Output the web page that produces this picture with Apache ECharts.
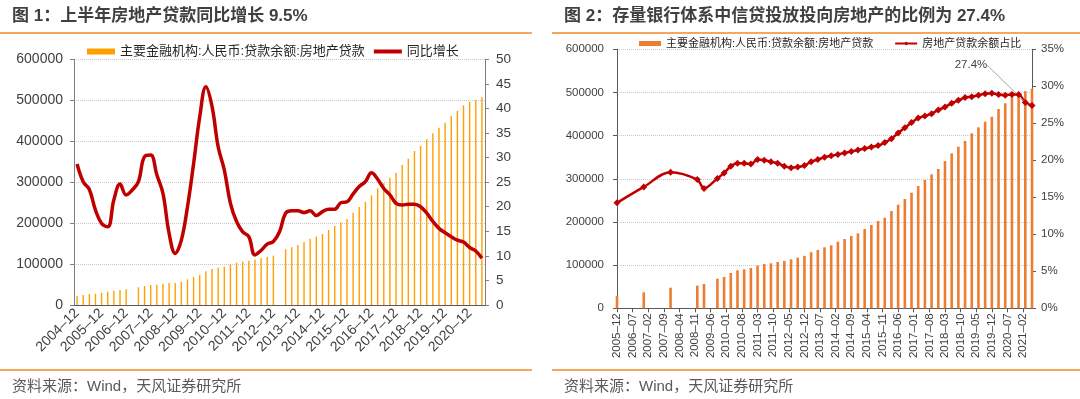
<!DOCTYPE html>
<html>
<head>
<meta charset="utf-8">
<style>
html,body{margin:0;padding:0;background:#fff;}
#main{width:1080px;height:399px;}
</style>
<script src="https://cdn.jsdelivr.net/npm/echarts@6/dist/echarts.min.js"></script>
</head>
<body>
<div id="main"></div>
<script>
var FONT = "'Liberation Sans','Noto Sans CJK SC',sans-serif";
var LOAN_NAME = '主要金融机构:人民币:贷款余额:房地产贷款';

function monthList(y, m, count, step) {
	var out = [];
	for (var i = 0; i < count; i++) {
		out.push(y + '-' + (m < 10 ? '0' + m : m));
		m += step;
		if (m > 12) { m -= 12; y++; }
	}
	return out;
}

// 图1：季度，2004-12 ~ 2021-06
var quarters = monthList(2004, 12, 67, 3);
var loanBalance1 = [
	22000, 24400, 26900, 27500, 30000, 32600, 35000, 36600, 38300, null,
	43200, 46400, 48800, 49600, 52100, 53700, 54000, 57000, 62700, 68400,
	73300, 82300, 87900, 91200, 93500, 100000, 103300, 105800, 108200, 110600,
	114000, 117200, 120400, null, 136000, 140900, 146500, 153800, 161900, 166800,
	173400, 183100, 192900, 201900, 210000, 225400, 239300, 252300, 267900, 284900,
	297100, 310900, 323100, 341900, 357300, 376100, 388300, 404600, 419300, 433000,
	445200, 461500, 474500, 487600, 496400, 500600, 507200
];
var yoyGrowth = [
	28.7, 25.1, 23.5, 19.3, 16.6, 15.9, 21.4, 24.6, 22.4, 23.4,
	25.1, 30.2, 30.5, 26.5, 22.7, 14.6, 10.5, 13.2, 20.0, 28.8,
	38.3, 44.4, 40.4, 32.2, 27.5, 20.7, 17.0, 14.9, 13.9, 10.2,
	11.1, 12.4, 12.9, 14.9, 18.7, 19.2, 19.2, 18.8, 19.2, 18.2,
	19.0, 19.5, 19.5, 20.8, 21.0, 22.6, 24.1, 25.1, 26.9, 25.6,
	23.7, 22.4, 20.7, 20.35, 20.5, 20.5, 20.0, 18.7, 17.0, 15.6,
	14.7, 13.9, 13.2, 12.8, 11.7, 11.0, 9.5
];

// 图2：月度轴 2005-12 ~ 2021-06，数据点如下
var months = monthList(2005, 12, 187, 1);
var shareDates = ['2005-12', '2006-12', '2007-12', '2008-12', '2009-03', '2009-09'].concat(monthList(2009, 12, 47, 3));
var loanBalance2 = [
	28500, 37000, 47700, 52400, 56300, 68600,
	72500, 81800, 88000, 90300, 93300, 98700, 102600, 104200, 107300, 109600,
	113500, 117200, 121500, 130000, 135300, 141300, 145900, 154300, 160500, 167500,
	173700, 183700, 193000, 202200, 209900, 225400, 240000, 253200, 267800, 283300,
	297200, 310400, 322700, 341200, 359000, 374300, 387500, 405400, 419300, 432300,
	443800, 461700, 474900, 488800, 496000, 503000, 509000
];
var loanShare = [
	14.25, 16.4, 18.4, 17.4, 16.2, 17.55,
	18.3, 19.2, 19.6, 19.6, 19.5, 20.1, 20.0, 19.8, 19.6, 19.2,
	19.0, 19.1, 19.3, 19.8, 20.1, 20.4, 20.6, 20.8, 21.0, 21.2,
	21.4, 21.6, 21.8, 22.0, 22.4, 22.9, 23.7, 24.4, 25.1, 25.7,
	26.0, 26.3, 26.8, 27.2, 27.7, 28.1, 28.5, 28.6, 28.8, 29.0,
	29.05, 28.9, 28.8, 28.9, 28.9, 27.8, 27.4
];

var barData2 = months.map(function () { return null; });
var shareData = months.map(function () { return null; });
shareDates.forEach(function (d, i) {
	var k = months.indexOf(d);
	barData2[k] = loanBalance2[i];
	shareData[k] = loanShare[i];
});
// 最新一期标注
var lastK = months.indexOf(shareDates[shareDates.length - 1]);
shareData[lastK] = {
	value: loanShare[loanShare.length - 1],
	label: { show: true, position: 'top', distance: 0, formatter: '{c}%', fontSize: 11.5, color: '#404040', fontFamily: FONT }
};

function dash(v) { return v.replace('-', '–'); }
function plain(v) { return String(v); }

var myChart = echarts.init(document.getElementById('main'));
var option = {
	animation: false,
	textStyle: { fontFamily: FONT },
	title: [
		{
			left: 12, top: 8, padding: 0,
			text: '{b|图 1：上半年房地产贷款同比增长 }{n|9.5%}',
			textStyle: { rich: {
				b: { fontSize: 17, fontWeight: 'bold', color: '#404040', fontFamily: FONT },
				n: { fontSize: 17, color: '#404040', fontFamily: FONT }
			} }
		},
		{
			left: 564, top: 8, padding: 0,
			text: '{b|图 2：存量银行体系中信贷投放投向房地产的比例为 }{n|27.4%}',
			textStyle: { rich: {
				b: { fontSize: 17, fontWeight: 'bold', color: '#404040', fontFamily: FONT },
				n: { fontSize: 17, color: '#404040', fontFamily: FONT }
			} }
		},
		{ left: 12, top: 379, padding: 0, text: '资料来源：Wind，天风证券研究所', textStyle: { fontSize: 15, fontWeight: 'normal', color: '#595959' } },
		{ left: 564, top: 379, padding: 0, text: '资料来源：Wind，天风证券研究所', textStyle: { fontSize: 15, fontWeight: 'normal', color: '#595959' } }
	],
	graphic: [
		{ type: 'line', shape: { x1: 0, y1: 33, x2: 532, y2: 33 }, style: { stroke: '#f28a2e', lineWidth: 1.5 } },
		{ type: 'line', shape: { x1: 552, y1: 33, x2: 1080, y2: 33 }, style: { stroke: '#f28a2e', lineWidth: 1.5 } },
		{ type: 'line', shape: { x1: 0, y1: 370, x2: 532, y2: 370 }, style: { stroke: '#f28a2e', lineWidth: 1.5 } },
		{ type: 'line', shape: { x1: 552, y1: 370, x2: 1080, y2: 370 }, style: { stroke: '#f28a2e', lineWidth: 1.5 } }
	],
	legend: [
		{
			left: 87, top: 45, padding: 0, itemWidth: 28, itemHeight: 6, itemGap: 9,
			selectedMode: false,
			textStyle: { fontSize: 13, color: '#262626' },
			data: [
				{ name: LOAN_NAME, icon: 'rect', itemStyle: { color: '#ffa000' } },
				{ name: '同比增长', icon: 'path://M0,0H28V4H0Z', itemStyle: { color: '#c00000' } }
			]
		},
		{
			left: 639, top: 38, padding: 0, itemWidth: 22, itemHeight: 5, itemGap: 21,
			selectedMode: false,
			textStyle: { fontSize: 11, color: '#262626' },
			data: [
				{ name: LOAN_NAME, icon: 'rect', itemStyle: { color: '#ed7d31' } },
				{ name: '房地产贷款余额占比' }
			]
		}
	],
	grid: [
		{ left: 74, top: 59.3, width: 411, height: 245.7 },
		{ left: 617, top: 49.3, width: 415, height: 259 }
	],
	xAxis: [
		{
			gridIndex: 0, type: 'category', data: quarters, boundaryGap: true,
			axisLine: { lineStyle: { color: '#595959' } },
			axisTick: { interval: 3, alignWithLabel: true, length: 4, lineStyle: { color: '#595959' } },
			axisLabel: { interval: 3, rotate: 45, fontSize: 14, color: '#404040', margin: 6, formatter: dash }
		},
		{
			gridIndex: 1, type: 'category', data: months, boundaryGap: false,
			axisLine: { lineStyle: { color: '#595959' } },
			axisTick: { interval: 6, length: 4, lineStyle: { color: '#595959' } },
			axisLabel: { interval: 6, rotate: 90, fontSize: 11.5, color: '#404040', margin: 5, formatter: dash }
		}
	],
	yAxis: [
		{
			gridIndex: 0, type: 'value', min: 0, max: 600000, interval: 100000,
			axisLine: { show: true, lineStyle: { color: '#7f7f7f' } },
			axisTick: { show: true, length: 4 },
			axisLabel: { fontSize: 14, color: '#404040', margin: 11, formatter: plain },
			splitLine: { lineStyle: { type: 'dotted', color: '#c8c8c8' } }
		},
		{
			gridIndex: 0, type: 'value', position: 'right', min: 0, max: 50, interval: 5,
			axisLine: { show: true, lineStyle: { color: '#7f7f7f' } },
			axisTick: { show: true, length: 4 },
			axisLabel: { fontSize: 13.5, color: '#404040', margin: 11, formatter: plain },
			splitLine: { show: false }
		},
		{
			gridIndex: 1, type: 'value', min: 0, max: 600000, interval: 100000,
			axisLine: { show: true, lineStyle: { color: '#595959' } },
			axisTick: { show: true, length: 4 },
			axisLabel: { fontSize: 11.5, color: '#404040', margin: 13, formatter: plain },
			splitLine: { lineStyle: { type: 'dotted', color: '#c8c8c8' } }
		},
		{
			gridIndex: 1, type: 'value', position: 'right', min: 0, max: 35, interval: 5,
			axisLine: { show: true, lineStyle: { color: '#595959' } },
			axisTick: { show: true, length: 4 },
			axisLabel: { fontSize: 11.5, color: '#404040', margin: 9, formatter: '{value}%' },
			splitLine: { show: false }
		}
	],
	series: [
		{
			name: LOAN_NAME, type: 'bar', xAxisIndex: 0, yAxisIndex: 0,
			data: loanBalance1, barWidth: 1.4,
			itemStyle: { color: '#ffa000' }
		},
		{
			name: '同比增长', type: 'line', xAxisIndex: 0, yAxisIndex: 1,
			data: yoyGrowth, smooth: 0.4, symbol: 'none',
			lineStyle: { width: 3.5, color: '#c00000' },
			itemStyle: { color: '#c00000' }
		},
		{
			name: LOAN_NAME, type: 'bar', xAxisIndex: 1, yAxisIndex: 2,
			data: barData2, barWidth: 2.6,
			itemStyle: { color: '#ed7d31' }
		},
		{
			name: '房地产贷款余额占比', type: 'line', xAxisIndex: 1, yAxisIndex: 3,
			data: shareData, connectNulls: true, smooth: 0.35,
			symbol: 'diamond', symbolSize: 7, showAllSymbol: true,
			lineStyle: { width: 2.5, color: '#c00000' },
			itemStyle: { color: '#c00000' },
			labelLayout: { dx: -61, dy: -31 },
			labelLine: { show: true, lineStyle: { color: '#a6a6a6', width: 1 } }
		}
	]
};
myChart.setOption(option);
</script>
</body>
</html>
